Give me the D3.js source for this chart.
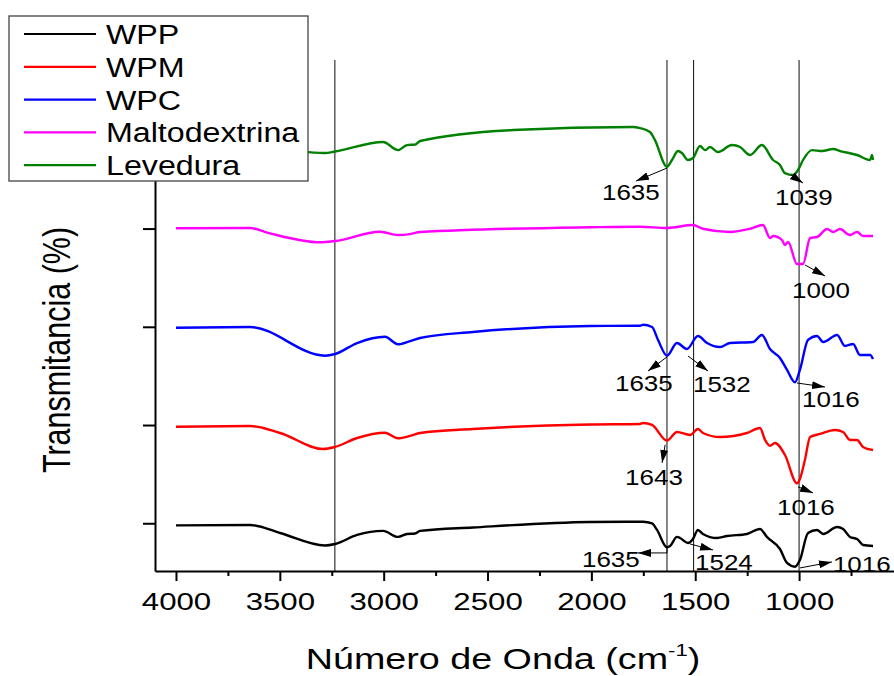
<!DOCTYPE html>
<html><head><meta charset="utf-8">
<script src="https://cdn.jsdelivr.net/npm/d3@7"></script>
<style>body{margin:0;background:#fff}svg{display:block}text{font-family:"Liberation Sans",Arial,sans-serif;fill:#000}</style>
</head><body><svg id="c" width="894" height="676"></svg>
<script>
// ---------------- DATA ----------------
const seriesNames = ["WPP","WPM","WPC","Maltodextrina","Levedura"];
const seriesColors = ["#000000","#ff0000","#0000ff","#ff00ff","#008000"];

const WPP = [[4000,0.978],[3644,0.983],[3499,0.901],[3283,0.774],[3234,0.789],[3128,0.881],[3003,0.922],[2931,0.861],[2888,0.891],[2849,0.896],[2825,0.922],[2570,0.957],[2007,1.013],[1751,1.016],[1708,0.998],[1684,0.932],[1636,0.756],[1621,0.769],[1588,0.861],[1573,0.850],[1535,0.799],[1511,0.840],[1487,0.932],[1463,0.891],[1395,0.850],[1347,0.870],[1251,0.891],[1188,0.942],[1155,0.861],[1092,0.738],[1058,0.596],[1020,0.558],[996,0.626],[957,0.901],[914,0.932],[884,0.891],[817,0.962],[788,0.942],[755,0.861],[721,0.840],[692,0.779],[644,0.769]];

const WPM = [[4000,1.983],[3644,1.990],[3499,1.919],[3292,1.756],[3234,1.777],[3128,1.868],[2994,1.922],[2931,1.865],[2873,1.889],[2825,1.919],[2570,1.960],[2007,2.006],[1766,2.011],[1751,2.021],[1708,2.001],[1636,1.841],[1588,1.929],[1525,1.899],[1487,1.960],[1463,1.919],[1381,1.878],[1251,1.919],[1188,1.970],[1164,1.848],[1140,1.788],[1116,1.817],[1068,1.695],[1010,1.407],[996,1.451],[972,1.644],[947,1.878],[899,1.909],[827,1.950],[788,1.929],[755,1.848],[721,1.848],[692,1.777],[644,1.746]];

const WPC = [[4000,2.991],[3644,2.998],[3283,2.706],[3234,2.723],[3128,2.835],[2994,2.899],[2931,2.822],[2873,2.855],[2825,2.886],[2570,2.947],[2007,3.008],[1766,3.011],[1751,3.021],[1708,2.998],[1679,2.866],[1636,2.706],[1588,2.835],[1540,2.774],[1487,2.906],[1443,2.835],[1381,2.794],[1332,2.835],[1222,2.845],[1179,2.917],[1140,2.774],[1092,2.683],[1058,2.561],[1020,2.435],[996,2.561],[957,2.866],[914,2.906],[884,2.845],[817,2.917],[779,2.805],[740,2.825],[707,2.713],[658,2.713],[644,2.672]];

const Maltodextrina = [[4000,4.003],[3644,4.006],[3547,3.951],[3307,3.860],[3234,3.873],[3018,3.968],[2931,3.934],[2873,3.944],[2825,3.965],[2007,4.013],[1766,4.019],[1636,4.006],[1511,4.036],[1463,3.998],[1332,3.965],[1236,3.998],[1174,4.036],[1140,3.904],[1125,3.924],[1082,3.883],[1068,3.833],[1053,3.863],[1010,3.639],[981,3.639],[947,3.904],[914,3.914],[865,3.995],[836,3.965],[803,3.995],[755,3.934],[721,3.965],[692,3.924],[644,3.924]];

const Levedura = [[4000,4.820],[3644,4.820],[3499,4.805],[3283,4.769],[3234,4.784],[3003,4.881],[2931,4.799],[2888,4.850],[2849,4.855],[2825,4.891],[2377,5.003],[1800,5.034],[1766,5.023],[1718,4.983],[1694,4.901],[1636,4.630],[1612,4.698],[1583,4.790],[1564,4.769],[1535,4.698],[1511,4.718],[1477,4.840],[1453,4.799],[1429,4.830],[1390,4.779],[1323,4.850],[1284,4.830],[1236,4.749],[1179,4.850],[1125,4.698],[1092,4.647],[1068,4.565],[1029,4.545],[1005,4.596],[981,4.698],[938,4.799],[889,4.789],[836,4.810],[803,4.789],[721,4.749],[658,4.698],[649,4.749],[644,4.698]];

const seriesData = [WPP, WPM, WPC, Maltodextrina, Levedura];

const xTicks = [4000,3500,3000,2500,2000,1500,1000];
const xMinorTicks = [3750,3250,2750,2250,1750,1250,750];
const yTicks = [1,2,3,4,5];
const refLines = [3235,1636,1508,1000];

// peak labels: text, anchor (wavenumber, value) on the curve
const peakLabels = ["1635","1039","1000","1635","1532","1016","1643","1016","1635","1524","1016"];
const peakAnchorWn = [1636,1039,971,1636,1535,1010,1645,1005,1636,1525,996];
const peakAnchorT  = [4.616,4.545,3.629,2.693,2.703,2.428,1.798,1.370,0.759,0.789,0.545];

// ---------------- LAYOUT ----------------
const arrowPaths = [[[0,0],[-31,13]],[[0,0],[12,8]],[[0,0],[20,11]],[[0,0],[-19,14]],[[0,0],[20,15]],[[0,0],[28,4]],[[0,0],[-3,18]],[[0,0],[15,6]],[[0,0],[0,6],[-29,6]],[[0,0],[23,6]],[[0,0],[32,-6]]];
const labelOffsets = [[-65,32],[-16,30],[-13,33],[-52,34],[5,36],[5,24],[-40,40],[-21,28],[-85,20],[5,26],[33,4]];

const svg = d3.select("#c");
const x = d3.scaleLinear().domain([4101,543]).range([155,894]);
const y = d3.scaleLinear().domain([0.514,5.716]).range([571,60]);

svg.append("defs").append("marker")
  .attr("id","ah").attr("markerUnits","userSpaceOnUse")
  .attr("markerWidth",13).attr("markerHeight",8).attr("refX",13).attr("refY",4)
  .attr("orient","auto")
  .append("path").attr("d","M0,0L13,4L0,8Z").attr("fill","#000");

// reference vertical lines
svg.append("g").selectAll("line").data(refLines).join("line")
  .attr("x1",d=>x(d)).attr("x2",d=>x(d))
  .attr("y1",y.range()[1]).attr("y2",y.range()[0])
  .attr("stroke","#222").attr("stroke-width",1.1);

// spectra
const line = d3.line().x(d=>x(d[0])).y(d=>y(d[1])).curve(d3.curveMonotoneX);
svg.append("g").selectAll("path").data(seriesData).join("path")
  .attr("d",line).attr("fill","none")
  .attr("stroke",(d,i)=>seriesColors[i]).attr("stroke-width",2.4)
  .attr("stroke-linejoin","round");

// annotations
const ann = svg.append("g");
peakLabels.forEach((lab,i)=>{
  const ax = x(peakAnchorWn[i]), ay = y(peakAnchorT[i]);
  const pts = arrowPaths[i].map(p=>[ax+p[0], ay+p[1]]);
  ann.append("path").attr("d", d3.line()(pts)).attr("fill","none")
    .attr("stroke","#000").attr("stroke-width",1).attr("marker-end","url(#ah)");
  ann.append("text")
    .attr("transform",`translate(${ax+labelOffsets[i][0]},${ay+labelOffsets[i][1]}) scale(1.18,1)`)
    .attr("font-size",22).text(lab);
});

// axes
const gx = svg.append("g").attr("transform","translate(0,571)")
  .call(d3.axisBottom(x).tickValues(xTicks).tickSize(10).tickSizeOuter(0).tickFormat(d3.format("d")));
gx.select(".domain").attr("stroke-width",2);
gx.selectAll(".tick line").attr("stroke-width",2);
gx.selectAll(".tick text").attr("y",39).attr("dy",0)
  .attr("font-size",24).attr("font-family","Liberation Sans, Arial, sans-serif")
  .attr("transform","scale(1.3,1)");
const gxm = svg.append("g").attr("transform","translate(0,571)")
  .call(d3.axisBottom(x).tickValues(xMinorTicks).tickSize(5).tickSizeOuter(0).tickFormat(""));
gxm.select(".domain").remove();
gxm.selectAll(".tick line").attr("stroke-width",2);

const gy = svg.append("g").attr("transform","translate(155,0)")
  .call(d3.axisLeft(y).tickValues(yTicks).tickSize(12).tickSizeOuter(0).tickFormat(""));
gy.select(".domain").attr("stroke-width",2);
gy.selectAll(".tick line").attr("stroke-width",2);

// axis titles
const xt = svg.append("text").attr("transform","translate(503,669) scale(1.3,1)")
  .attr("text-anchor","middle").attr("font-size",29);
xt.append("tspan").text("Número de Onda (cm");
xt.append("tspan").attr("font-size",17).attr("dy",-13).text("-1");
xt.append("tspan").attr("dy",13).text(")");

svg.append("text").attr("transform","translate(70,350) scale(1.28,1) rotate(-90)")
  .attr("text-anchor","middle").attr("font-size",30.5).text("Transmitancia (%)");

// legend
const lg = svg.append("g");
lg.append("rect").attr("x",9).attr("y",16).attr("width",299).attr("height",165)
  .attr("fill","#fff").attr("stroke","#444").attr("stroke-width",1.3);
seriesNames.forEach((n,i)=>{
  const ly = 34 + i*32.8;
  lg.append("line").attr("x1",24).attr("x2",96).attr("y1",ly).attr("y2",ly)
    .attr("stroke",seriesColors[i]).attr("stroke-width",2.2);
  lg.append("text").attr("transform",`translate(106,${ly+10}) scale(1.15,1)`)
    .attr("font-size",28).text(n);
});
</script></body></html>
